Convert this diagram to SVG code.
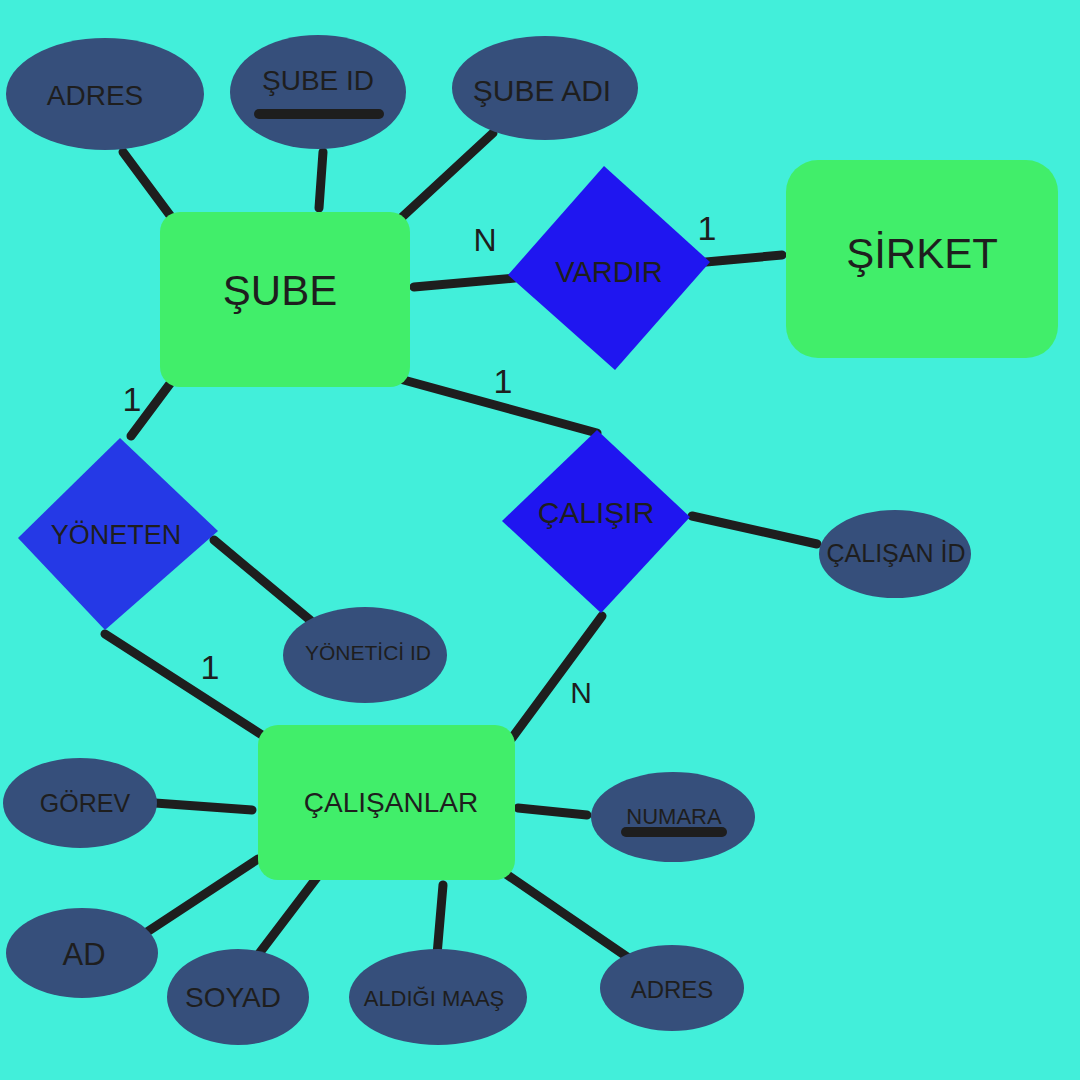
<svg xmlns="http://www.w3.org/2000/svg" width="1080" height="1080" viewBox="0 0 1080 1080">
<style>
.bg{fill:#42EFDA}
.ent{fill:#41EE6A}
.att{fill:#364F7B}
.rel{fill:#1F16F0}
.rel2{fill:#2539E6}
text{font-family:"Liberation Sans",Arial,sans-serif;fill:#1E1E1E;text-anchor:middle;dominant-baseline:central}
.ln{stroke:#1E1E1E;stroke-width:9;stroke-linecap:round;fill:none}
.ul{stroke:#1E1E1E;stroke-width:10;stroke-linecap:round;fill:none}
</style>
<rect class="bg" x="0" y="0" width="1080" height="1080"/>
<g id="connectors">
<line class="ln" x1="123" y1="152" x2="172" y2="218"/>
<line class="ln" x1="323" y1="152" x2="319" y2="208"/>
<line class="ln" x1="493" y1="133" x2="400" y2="219"/>
<line class="ln" x1="414" y1="287" x2="515" y2="278"/>
<line class="ln" x1="706" y1="262" x2="782" y2="255"/>
<line class="ln" x1="172" y1="381" x2="131" y2="436"/>
<line class="ln" x1="400" y1="379" x2="597" y2="433"/>
<line class="ln" x1="214" y1="540" x2="310" y2="620"/>
<line class="ln" x1="105" y1="634" x2="262" y2="735"/>
<line class="ln" x1="692" y1="516" x2="817" y2="544"/>
<line class="ln" x1="602" y1="616" x2="512" y2="738"/>
<line class="ln" x1="155" y1="803" x2="252" y2="810"/>
<line class="ln" x1="518" y1="808" x2="587" y2="815"/>
<line class="ln" x1="147" y1="932" x2="258" y2="859"/>
<line class="ln" x1="258" y1="955" x2="318" y2="876"/>
<line class="ln" x1="437" y1="955" x2="443" y2="885"/>
<line class="ln" x1="636" y1="963" x2="506" y2="874"/>
</g>
<g id="labels">
<text x="485" y="240" font-size="32">N</text>
<text x="707" y="228" font-size="34">1</text>
<text x="132" y="399" font-size="34">1</text>
<text x="503" y="381" font-size="34">1</text>
<text x="210" y="667" font-size="34">1</text>
<text x="581" y="692" font-size="30">N</text>
</g>
<g id="adres1"><ellipse class="att" cx="105" cy="94" rx="99" ry="56"/><text x="95" y="95" font-size="28">ADRES</text></g>
<g id="subeid"><ellipse class="att" cx="318" cy="92" rx="88" ry="57"/><text x="318" y="80" font-size="28">ŞUBE ID</text><line class="ul" x1="259" y1="114" x2="379" y2="114"/></g>
<g id="subeadi"><ellipse class="att" cx="545" cy="88" rx="93" ry="52"/><text x="542" y="90" font-size="30">ŞUBE ADI</text></g>
<g id="sube"><rect class="ent" x="160" y="212" width="250" height="175" rx="20"/><text x="280" y="290" font-size="42">ŞUBE</text></g>
<g id="vardir"><polygon class="rel" points="604,166 710,262 615,370 508,275"/><text x="609" y="272" font-size="29">VARDIR</text></g>
<g id="sirket"><rect class="ent" x="786" y="160" width="272" height="198" rx="32"/><text x="922" y="253" font-size="42">ŞİRKET</text></g>
<g id="yoneten"><polygon class="rel2" points="120,438 218,531 105,630 18,538"/><text x="116" y="535" font-size="27">YÖNETEN</text></g>
<g id="yoneticiid"><ellipse class="att" cx="365" cy="655" rx="82" ry="48"/><text x="368" y="652" font-size="21">YÖNETİCİ ID</text></g>
<g id="calisir"><polygon class="rel" points="597,430 690,517 601,613 502,521"/><text x="596" y="512" font-size="30">ÇALIŞIR</text></g>
<g id="calisanid"><ellipse class="att" cx="895" cy="554" rx="76" ry="44"/><text x="896" y="553" font-size="25">ÇALIŞAN İD</text></g>
<g id="calisanlar"><rect class="ent" x="258" y="725" width="257" height="155" rx="20"/><text x="391" y="802" font-size="28">ÇALIŞANLAR</text></g>
<g id="gorev"><ellipse class="att" cx="80" cy="803" rx="77" ry="45"/><text x="85" y="803" font-size="25">GÖREV</text></g>
<g id="numara"><ellipse class="att" cx="673" cy="817" rx="82" ry="45"/><text x="674" y="816" font-size="22">NUMARA</text><line class="ul" x1="626" y1="832" x2="722" y2="832"/></g>
<g id="ad"><ellipse class="att" cx="82" cy="953" rx="76" ry="45"/><text x="84" y="954" font-size="31">AD</text></g>
<g id="soyad"><ellipse class="att" cx="238" cy="997" rx="71" ry="48"/><text x="233" y="997" font-size="28">SOYAD</text></g>
<g id="aldigimaas"><ellipse class="att" cx="438" cy="997" rx="89" ry="48"/><text x="434" y="998" font-size="22">ALDIĞI MAAŞ</text></g>
<g id="adres2"><ellipse class="att" cx="672" cy="988" rx="72" ry="43"/><text x="672" y="989" font-size="24">ADRES</text></g>
</svg>
